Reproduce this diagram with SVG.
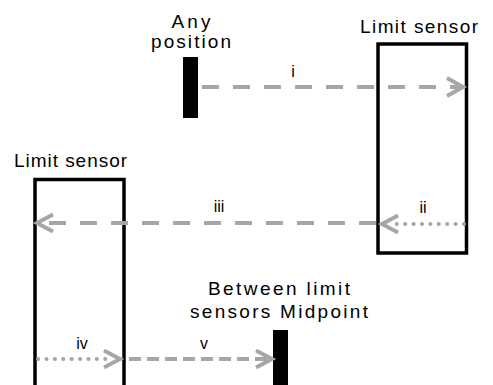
<svg xmlns="http://www.w3.org/2000/svg" width="493" height="385" viewBox="0 0 493 385">
<style>
.t{font-family:"Liberation Sans",Arial,sans-serif;font-size:19px;fill:#000;text-anchor:middle}
.n{font-family:"Liberation Sans",Arial,sans-serif;font-size:16px;fill:#000;text-anchor:middle}
.box{fill:none;stroke:#000;stroke-width:3.5}
.bar{fill:#000}
.c{fill:none;stroke:#a6a6a6;stroke-width:4}
.dl{stroke-dasharray:17 14}
.ds{stroke-dasharray:12 6}
.dt{stroke-dasharray:0.1 8.3;stroke-linecap:round}
</style>
<g id="any-position">
<rect class="bar" x="183" y="57" width="15" height="61"/>
<text class="t" x="191" y="28" textLength="39" lengthAdjust="spacing">Any</text>
<text class="t" x="191" y="48" textLength="80" lengthAdjust="spacing">position</text>
</g>
<g id="limit-sensor-right">
<rect class="box" x="378" y="44" width="88.5" height="209"/>
<text class="t" x="419" y="33" textLength="118" lengthAdjust="spacing">Limit sensor</text>
</g>
<g id="limit-sensor-left">
<rect class="box" x="35" y="179.5" width="89" height="220"/>
<text class="t" x="70.5" y="167" textLength="113" lengthAdjust="spacing">Limit sensor</text>
</g>
<g id="midpoint">
<rect class="bar" x="273" y="330" width="15" height="60"/>
<text class="t" x="279" y="295" textLength="142" lengthAdjust="spacing">Between limit</text>
<text class="t" x="279" y="318" textLength="178" lengthAdjust="spacing">sensors Midpoint</text>
</g>
<g id="connectors">
<line class="c dl" x1="202" y1="87" x2="461" y2="87"/>
<path class="c" d="M447,78 L463,87 L447,96"/>
<line class="c dt" x1="464" y1="224" x2="392" y2="224"/>
<path class="c" d="M398,215.5 L382,224 L398,232.5"/>
<line class="c dl" x1="376" y1="223" x2="40" y2="223"/>
<path class="c" d="M53,214.5 L37,223 L53,231.5"/>
<line class="c dt" x1="38" y1="359" x2="112" y2="359"/>
<path class="c" d="M104,350.5 L120,359 L104,367.5"/>
<line class="c ds" x1="129" y1="359" x2="268" y2="359"/>
<path class="c" d="M256,350.5 L272,359 L256,367.5"/>
</g>
<g id="labels">
<text class="n" x="293" y="77">i</text>
<text class="n" x="423" y="213">ii</text>
<text class="n" x="219" y="212">iii</text>
<text class="n" x="82" y="349">iv</text>
<text class="n" x="204" y="349">v</text>
</g>
</svg>
